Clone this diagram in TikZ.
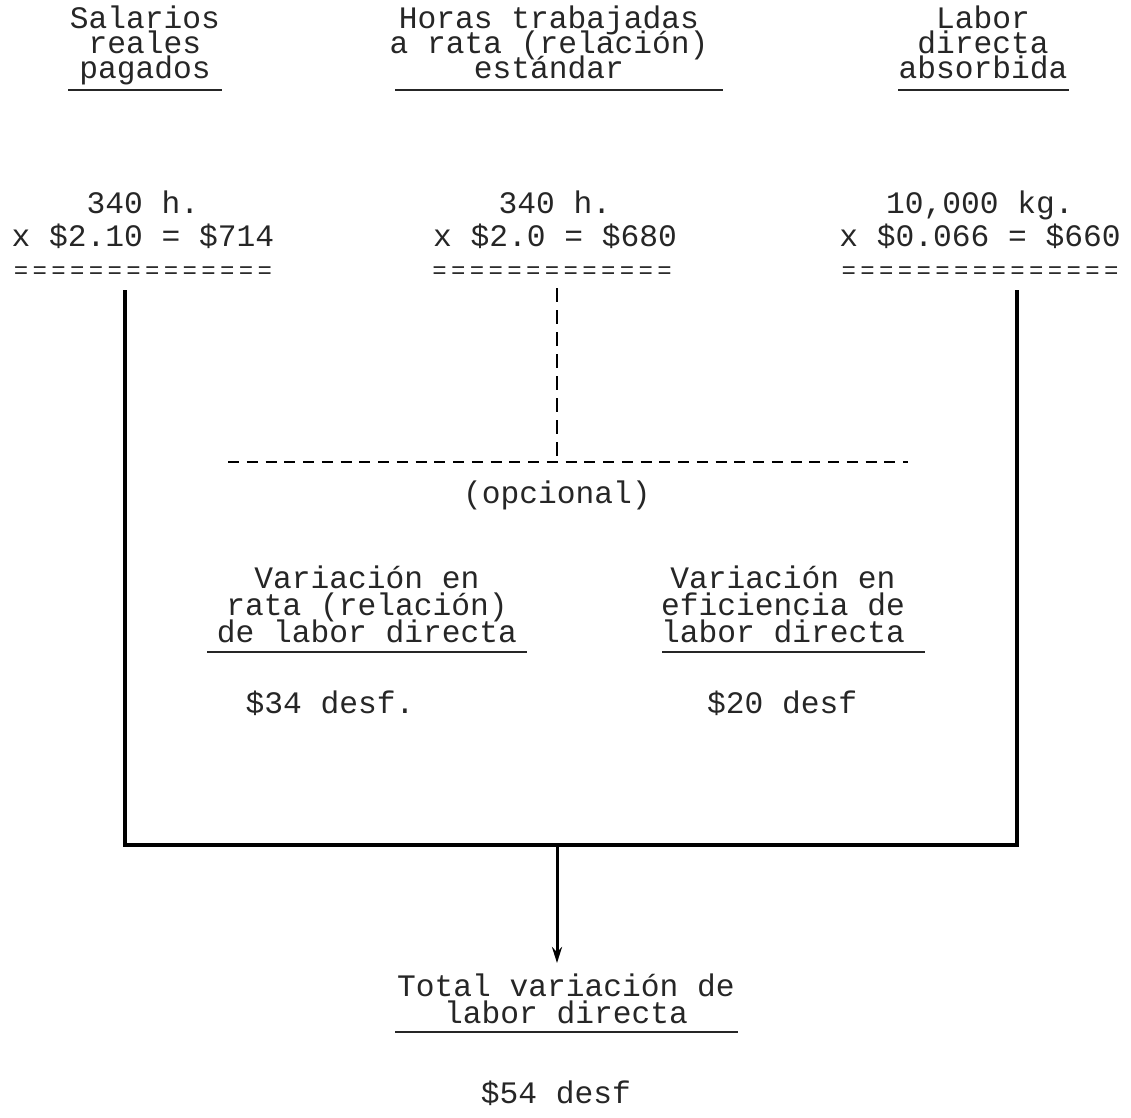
\documentclass[tikz,border=0pt]{standalone}
\usepackage{fontspec}
\setmainfont{Liberation Mono}
\usetikzlibrary{arrows.meta}
\newcommand\myeq{\makebox[18.75pt]{\fontsize{24}{24}\selectfont=}}
\newcommand\myeqs[1]{\foreach \k in {1,...,#1}{\myeq}}
\begin{document}
\begin{tikzpicture}[x=1pt,y=-1pt,
  head/.style={font={\fontsize{31.25}{25}\selectfont\lineskiplimit=-40pt\lineskip=0pt}, align=center, inner sep=0pt, anchor=base, text=black!85},
  nums/.style={font={\fontsize{31.25}{33}\selectfont\lineskiplimit=-40pt\lineskip=0pt}, align=center, inner sep=0pt, anchor=base, text=black!85},
  varb/.style={font={\fontsize{31.25}{27}\selectfont\lineskiplimit=-40pt\lineskip=0pt}, align=center, inner sep=0pt, anchor=base, text=black!85},
  uline/.style={line width=1.6pt, black!85},
  solidline/.style={line width=3.5pt, black},
  dashline/.style={line width=2pt, black, dash pattern=on 11pt off 7.75pt},
  dashvline/.style={line width=2pt, black, dash pattern=on 14pt off 8pt},
  arrowline/.style={line width=3pt, black, -{Stealth[length=16pt,width=10pt]}}
]
\useasboundingbox (0,0) rectangle (1131,1117);

% headings (anchor = baseline of last line)
\node[head] (h1) at (145,78) {Salarios\\reales\\pagados};
\node[head] (h2) at (549,78) {Horas trabajadas\\a rata (relación)\\estándar};
\node[head] (h3) at (983,78) {Labor\\directa\\absorbida};
\draw[uline] (68,90) -- (222,90);
\draw[uline] (395,90) -- (723,90);
\draw[uline] (898,90) -- (1069,90);

% amounts
\node[nums] (n1) at (143,246) {340 h.\\x \$2.10 = \$714};
\node[nums] (n2) at (555,246) {340 h.\\x \$2.0 = \$680};
\node[nums] (n3) at (980,246) {10,000 kg.\\x \$0.066 = \$660};
\node[nums] (e1) at (143,278) {\myeqs{14}};
\node[nums] (e2) at (552,278) {\myeqs{13}};
\node[nums] (e3) at (980,278) {\myeqs{15}};

% frame
\coordinate (bl) at (125,845);
\coordinate (br) at (1017,845);
\coordinate (bm) at (557,845);
\draw[solidline] (bl |- 0,290) -- (bl) -- (br) -- (br |- 0,290);

% optional dashed
\coordinate (jn) at (557,462);
\coordinate (dl) at (228,462);
\coordinate (dr) at (908,462);
\draw[dashvline] (jn |- 0,288) -- (jn);
\draw[dashline] (dl) -- (dr);
\node[head] (op) at (557,503) {(opcional)};

% variances
\node[varb] (v1) at (367,642) {Variación en\\rata (relación)\\de labor directa};
\node[varb] (v2) at (783,642) {Variación en\\eficiencia de\\labor directa};
\draw[uline] (207,652) -- (527,652);
\draw[uline] (662,652) -- (925,652);
\node[head] (a1) at (330,713) {\$34 desf.};
\node[head] (a2) at (782,713) {\$20 desf};

% total
\node[varb] (t) at (566,1023) {Total variación de\\labor directa};
\draw[uline] (395,1032) -- (738,1032);
\coordinate (tip) at (557,963);
\draw[arrowline] (bm) -- (tip);
\node[head] (tt) at (556,1103) {\$54 desf};
\end{tikzpicture}
\end{document}
